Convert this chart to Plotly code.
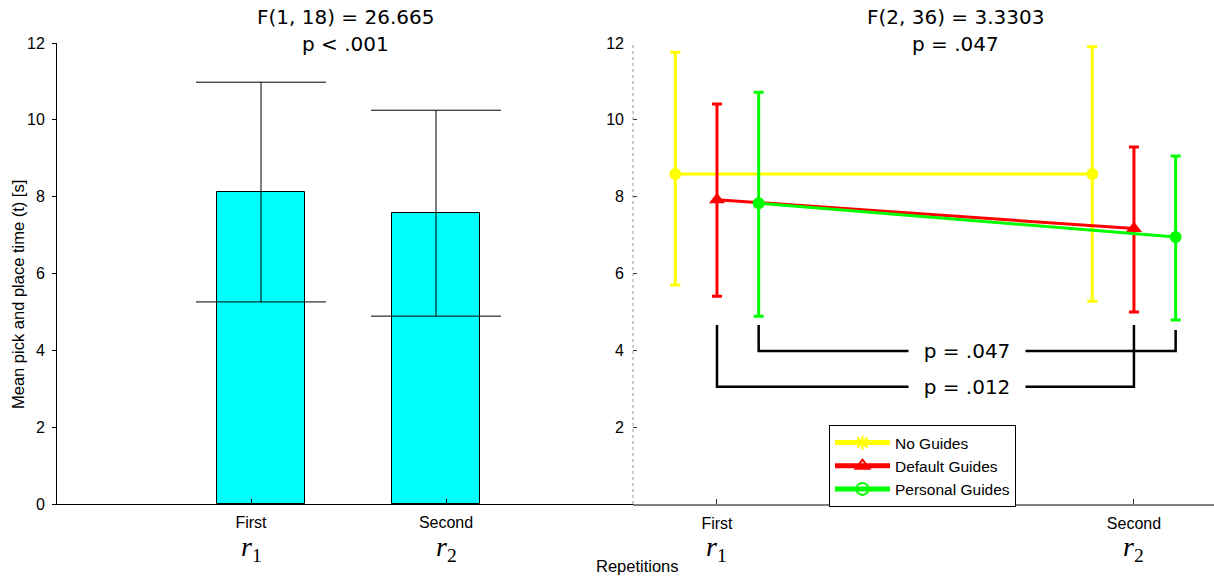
import plotly.graph_objects as go

W, H = 1214, 576

# ---------------- data ----------------
reps = ["First", "Second"]
rep_pos = [1, 2]
rep_symbols = ["<i>r</i><sub>1</sub>", "<i>r</i><sub>2</sub>"]

overall_mean = [8.12, 7.57]
overall_upper = [10.98, 10.25]
overall_lower = [5.26, 4.89]

groups = ["No Guides", "Default Guides", "Personal Guides"]
group_colors = ["#FFFF00", "#FF0000", "#00FF00"]
group_offsets = [-0.1, 0.0, 0.1]
group_symbols = ["circle", "triangle-up", "circle"]
legend_symbols = ["asterisk-open", "triangle-up-open", "circle-open"]

no_mean = [8.59, 8.59]
no_upper = [11.76, 11.90]
no_lower = [5.70, 5.28]
def_mean = [7.92, 7.17]
def_upper = [10.41, 9.29]
def_lower = [5.41, 5.00]
per_mean = [7.83, 6.95]
per_upper = [10.72, 9.06]
per_lower = [4.89, 4.79]

group_means = [no_mean, def_mean, per_mean]
group_uppers = [no_upper, def_upper, per_upper]
group_lowers = [no_lower, def_lower, per_lower]

left_title = ["F(1, 18) = 26.665", "p < .001"]
right_title = ["F(2, 36) = 3.3303", "p = .047"]

bracket_labels = ["p = .047", "p = .012"]
bracket_left_x = [1.1, 1.0]
bracket_right_x = [2.1, 2.0]
bracket_left_top = [4.66, 4.66]
bracket_right_top = [4.53, 4.66]
bracket_bar_y = [3.98, 3.05]
bracket_label_x = [1.6, 1.6]

y_ticks = [0, 2, 4, 6, 8, 10, 12]
y_ticks_right = [2, 4, 6, 8, 10, 12]


def px(x):
    return x / W


def py(y):
    return 1 - y / H


SANS = "Liberation Sans, Arial, sans-serif"
DEJA = "DejaVu Sans, sans-serif"
SERIF = "Liberation Serif, DejaVu Serif, serif"

fig = go.Figure()

# ---------------- left: bar chart ----------------
fig.add_trace(go.Bar(
    x=rep_pos, y=overall_mean, width=0.5,
    marker=dict(color="#00FFFF", line=dict(color="black", width=1)),
    error_y=dict(type="data", symmetric=False,
                 array=[u - m for u, m in zip(overall_upper, overall_mean)],
                 arrayminus=[m - l for m, l in zip(overall_mean, overall_lower)],
                 color="black", thickness=1, width=65),
    xaxis="x", yaxis="y", showlegend=False, hoverinfo="skip"))

# invisible trace so the tick-label axis is drawn
fig.add_trace(go.Scatter(x=rep_pos, y=[None, None], xaxis="x3", yaxis="y",
                         showlegend=False, hoverinfo="skip", mode="markers"))

# ---------------- right: interaction plot ----------------
for g, col, off, sym, m, u, l in zip(groups, group_colors, group_offsets, group_symbols,
                                      group_means, group_uppers, group_lowers):
    fig.add_trace(go.Scatter(
        x=[p + off for p in rep_pos], y=m, mode="lines+markers",
        line=dict(color=col, width=3),
        marker=dict(color=col, size=12 if sym == "circle" else 14, symbol=sym),
        error_y=dict(type="data", symmetric=False,
                     array=[a - b for a, b in zip(u, m)],
                     arrayminus=[b - c for b, c in zip(m, l)],
                     color=col, thickness=3, width=5),
        xaxis="x2", yaxis="y2", showlegend=False, hoverinfo="skip"))

for g, col, ls in zip(groups, group_colors, legend_symbols):
    fig.add_trace(go.Scatter(
        x=[None], y=[None], mode="lines+markers", name=g,
        line=dict(color=col, width=3),
        marker=dict(color=col, size=8, symbol=ls, line=dict(color=col, width=1)),
        xaxis="x2", yaxis="y2", showlegend=True))

# significance brackets
for lx, rx, lt, rt, by in zip(bracket_left_x, bracket_right_x, bracket_left_top,
                              bracket_right_top, bracket_bar_y):
    fig.add_trace(go.Scatter(
        x=[lx, lx, rx, rx], y=[lt, by, by, rt], mode="lines",
        line=dict(color="black", width=2.5),
        xaxis="x2", yaxis="y2", showlegend=False, hoverinfo="skip"))

annotations = []
for lab, lx, by in zip(bracket_labels, bracket_label_x, bracket_bar_y):
    annotations.append(dict(x=lx, y=by, xref="x2", yref="y2", text=lab, showarrow=False,
                            font=dict(family=DEJA, size=20, color="black"),
                            bgcolor="white", borderpad=2, xanchor="center", yanchor="middle",
                            width=112))

# titles
for i, t in enumerate(left_title):
    annotations.append(dict(x=px(345), y=py(17 + 27 * i), xref="paper", yref="paper",
                            text=t, showarrow=False, xanchor="center", yanchor="middle",
                            font=dict(family=DEJA, size=20, color="black")))
for i, t in enumerate(right_title):
    annotations.append(dict(x=px(955), y=py(17 + 27 * i), xref="paper", yref="paper",
                            text=t, showarrow=False, xanchor="center", yanchor="middle",
                            font=dict(family=DEJA, size=20, color="black")))

# r1 / r2 symbols below tick labels
for p, s in zip(rep_pos, rep_symbols):
    annotations.append(dict(x=p, y=py(548), xref="x3", yref="paper", text=s, showarrow=False,
                            xanchor="center", yanchor="middle",
                            font=dict(family=SERIF, size=28, color="black")))
    annotations.append(dict(x=p, y=py(548), xref="x2", yref="paper", text=s, showarrow=False,
                            xanchor="center", yanchor="middle",
                            font=dict(family=SERIF, size=28, color="black")))

# axis titles
annotations.append(dict(x=px(637), y=py(566), xref="paper", yref="paper", text="Repetitions",
                        showarrow=False, xanchor="center", yanchor="middle",
                        font=dict(family=SANS, size=16.5, color="black")))
annotations.append(dict(x=px(18), y=py(295), xref="paper", yref="paper",
                        text="Mean pick and place time (t) [s]", textangle=-90,
                        showarrow=False, xanchor="center", yanchor="middle",
                        font=dict(family=SANS, size=16.5, color="black")))

ydom = [py(504), py(43)]
tickfont = dict(family=SANS, size=16, color="black")

fig.update_layout(
    width=W, height=H,
    margin=dict(l=0, r=0, t=0, b=0, autoexpand=False),
    paper_bgcolor="white", plot_bgcolor="white",
    bargap=0,
    xaxis=dict(domain=[px(57), px(633)], range=[-0.1657, 3.1257],
               showline=True, linecolor="black", linewidth=1, showticklabels=False,
               ticks="", showgrid=False, zeroline=False),
    xaxis3=dict(domain=[px(57), px(633)], range=[0.0051, 2.959], overlaying="x", anchor="y",
                tickvals=rep_pos, ticktext=reps, ticks="inside", ticklen=5,
                tickcolor="black", showline=False, showgrid=False, zeroline=False,
                tickfont=tickfont, ticklabelstandoff=7),
    yaxis=dict(domain=ydom, range=[0, 12], tickvals=y_ticks, ticks="outside", ticklen=4,
               tickcolor="black", showline=True, linecolor="black", linewidth=1,
               showgrid=False, zeroline=False, tickfont=tickfont, ticklabelstandoff=4),
    xaxis2=dict(domain=[px(633), 1], range=[0.7986, 2.192], anchor="y2",
                tickvals=rep_pos, ticktext=reps, ticks="inside", ticklen=5,
                tickcolor="#333333", showline=True, linecolor="#808080", linewidth=2,
                showgrid=False, zeroline=False, tickfont=tickfont, ticklabelstandoff=4),
    yaxis2=dict(domain=ydom, range=[0, 12], anchor="x2", tickvals=y_ticks_right,
                ticks="inside", ticklen=4, tickcolor="#333333", showline=False,
                showgrid=False, zeroline=False, tickfont=tickfont, ticklabelstandoff=8),
    legend=dict(x=px(829), y=py(425), xanchor="left", yanchor="top",
                bgcolor="white", bordercolor="black", borderwidth=1,
                font=dict(family=SANS, size=15.5, color="black"),
                itemsizing="constant", tracegroupgap=0, itemwidth=55),
    annotations=annotations,
    shapes=[dict(type="line", xref="paper", yref="paper", x0=px(633), x1=px(633),
                 y0=py(504), y1=py(43), line=dict(color="#999999", width=1, dash="dot"))],
)

fig.write_html(
    "out.html",
    config={"displayModeBar": False},
    post_script="document.body.style.margin='0';document.body.style.padding='0';"
                "document.body.style.overflow='hidden';"
                "document.documentElement.style.overflow='hidden';",
)
